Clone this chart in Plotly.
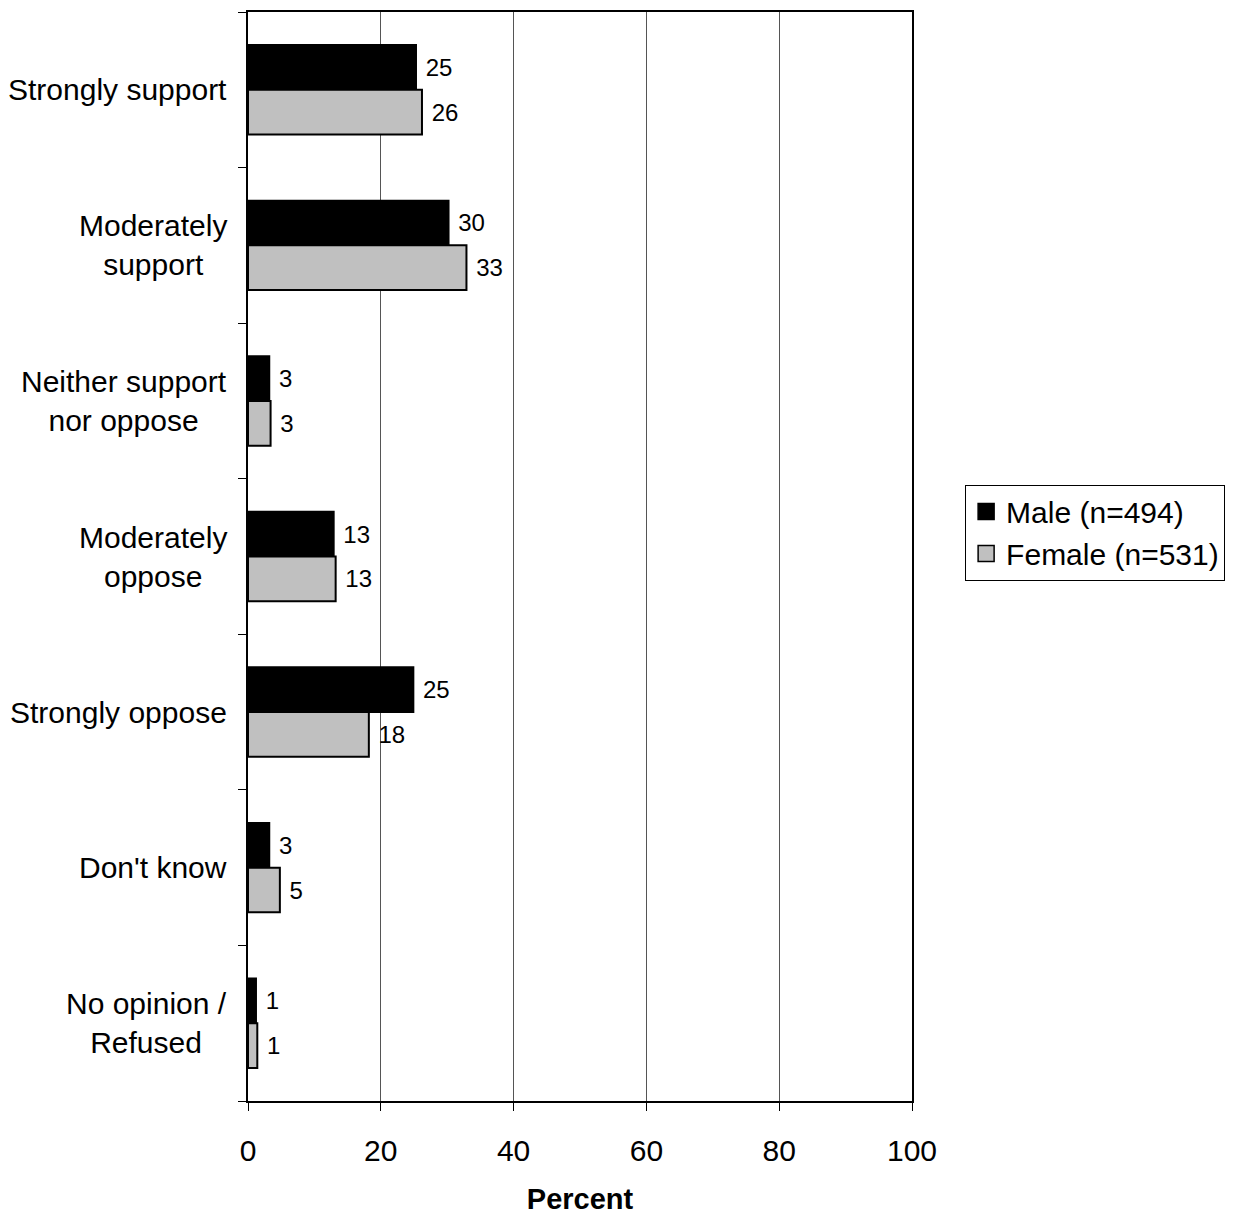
import plotly.graph_objects as go

categories = ["Strongly support", "Moderately<br>support", "Neither support<br>nor oppose",
              "Moderately<br>oppose", "Strongly oppose", "Don't know", "No opinion /<br>Refused"]
male = [25.3, 30.2, 3.2, 12.9, 24.9, 3.2, 1.2]
female = [26.2, 32.9, 3.4, 13.2, 18.2, 4.8, 1.4]
male_labels = ["25", "30", "3", "13", "25", "3", "1"]
female_labels = ["26", "33", "3", "13", "18", "5", "1"]
series_names = ["Male (n=494)", "Female (n=531)"]
series_colors = ["black", "#C0C0C0"]
x_ticks = [0, 20, 40, 60, 80, 100]

FONT = "Liberation Sans, Arial, sans-serif"
idx = list(range(len(categories)))

fig = go.Figure()
for vals, labs, name, col in zip([male, female], [male_labels, female_labels], series_names, series_colors):
    fig.add_trace(go.Bar(
        y=idx, x=vals, orientation="h", name=name, showlegend=False,
        marker=dict(color=col, line=dict(color="black", width=2)),
        text=["\u00a0" + t for t in labs], textposition="outside",
        textfont=dict(size=24, color="black", family=FONT), cliponaxis=False,
    ))
# legend entries (square swatches)
for name, col in zip(series_names, series_colors):
    fig.add_trace(go.Scatter(
        x=[None], y=[None], mode="markers", name=name,
        marker=dict(symbol="square", size=16, color=col, line=dict(color="black", width=1.5)),
    ))

for i, c in zip(idx, categories):
    fig.add_annotation(x=0, xref="paper", xanchor="right", xshift=-19,
                       y=i, yref="y", yanchor="middle", text=c, align="center",
                       showarrow=False, font=dict(size=30, color="black", family=FONT))

fig.update_layout(
    width=1225, height=1207,
    margin=dict(l=240, r=321, t=2, b=110),
    paper_bgcolor="white", plot_bgcolor="white",
    barmode="group", bargap=0.425, bargroupgap=0,
    font=dict(family=FONT, color="black", size=30),
    showlegend=True,
    legend=dict(x=1.080, xanchor="left", y=0.522, yanchor="middle",
                bordercolor="black", borderwidth=1, bgcolor="white",
                font=dict(size=30, family=FONT), traceorder="normal",
                itemwidth=30, tracegroupgap=0),
)
fig.update_xaxes(range=[0, 100], tickvals=x_ticks, ticktext=[str(v) for v in x_ticks],
                 showgrid=True, gridcolor="#555555", gridwidth=1,
                 showline=True, linecolor="black", linewidth=2, mirror=True,
                 ticks="outside", ticklen=8, tickcolor="black", tickwidth=1,
                 tickfont=dict(size=30, family=FONT), ticklabelstandoff=14,
                 zeroline=False,
                 title=dict(text="<b>Percent</b>", font=dict(size=29, family=FONT), standoff=26))
fig.update_yaxes(range=[len(categories) - 0.5, -0.5], tickvals=[i + 0.5 for i in [-1] + idx],
                 showticklabels=False, showgrid=False,
                 showline=True, linecolor="black", linewidth=2, mirror=True,
                 ticks="outside", ticklen=8, tickcolor="black", tickwidth=1,
                 zeroline=False)

fig.write_html("out.html")
